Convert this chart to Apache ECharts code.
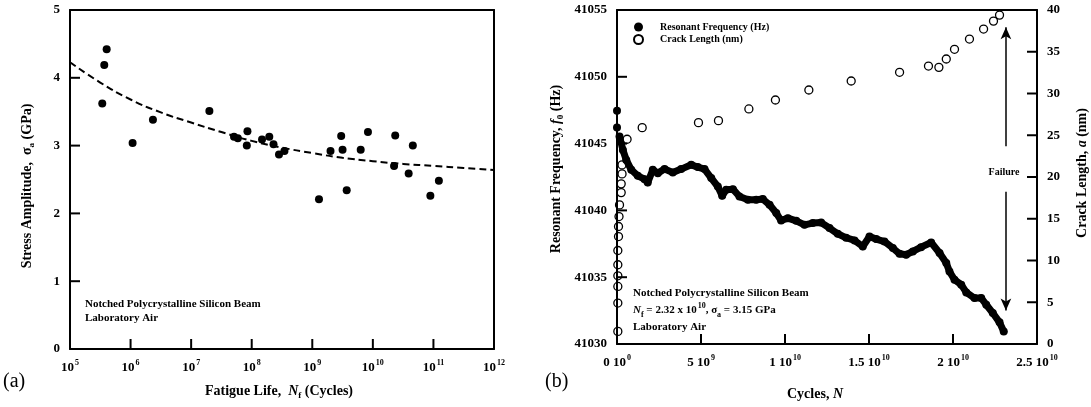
<!DOCTYPE html>
<html>
<head>
<meta charset="utf-8">
<script src="https://cdn.jsdelivr.net/npm/echarts@6/dist/echarts.min.js"></script>
<style>
  html, body { margin: 0; padding: 0; background: #fff; }
  #main { width: 1091px; height: 407px; }
</style>
</head>
<body>
<div id="main"></div>
<script>
// ---------------- (a) fatigue life data
var fatigueLife = [3.41e5, 3.68e5, 4.03e5, 1.08e6, 2.34e6, 2.0e7, 5.1e7, 5.9e7, 8.5e7, 8.3e7,
  1.48e8, 1.95e8, 2.29e8, 2.82e8, 3.47e8, 1.29e9, 2.0e9, 3.0e9, 3.16e9, 3.7e9,
  6.3e9, 8.3e9, 2.34e10, 2.24e10, 3.9e10, 4.57e10, 8.9e10, 1.23e11];
var stressAmp = [3.62, 4.19, 4.42, 3.04, 3.38, 3.51, 3.13, 3.11, 3.21, 3.00,
  3.09, 3.13, 3.02, 2.87, 2.92, 2.21, 2.92, 3.14, 2.94, 2.34,
  2.94, 3.20, 3.15, 2.70, 2.59, 3.00, 2.26, 2.48];
// dashed fit line
var fitLife = [1e5, 3.16e5, 1e6, 3.16e6, 1e7, 3.16e7, 1e8, 3.16e8, 1e9, 3.16e9, 1e10, 3.16e10, 1e11, 3.16e11, 1e12];
var fitStress = [4.23, 3.93, 3.68, 3.49, 3.34, 3.20, 3.07, 2.97, 2.89, 2.82, 2.77, 2.73, 2.70, 2.67, 2.64];

// ---------------- (b) resonant frequency / crack length (cycles in units of 1e9)
var freqCycles = [0.15, 0.35, 0.55, 0.85, 1.24, 1.64, 1.83, 2.13, 2.43, 2.83, 3.32, 3.82, 4.42, 4.81, 5.21,
  5.61, 6.0, 6.26, 6.5, 6.9, 7.29, 7.79, 8.29, 8.68, 9.08, 9.48, 9.77, 10.17, 10.67, 11.16,
  11.65, 12.15, 12.65, 13.14, 13.64, 14.14, 14.63, 15.03, 15.43, 15.92, 16.42, 16.82, 17.21, 17.61,
  18.1, 18.7, 19.2, 19.6, 19.79, 20.09, 20.49, 20.79, 21.28, 21.68, 21.98, 22.37, 22.77, 23.02];
var freqHz = [41045.53, 41044.53, 41043.78, 41043.04, 41042.59, 41042.34, 41042.09, 41043.04, 41042.79, 41043.09,
  41042.84, 41043.09, 41043.41, 41043.24, 41043.09, 41042.42, 41041.79, 41041.09, 41041.54, 41041.59,
  41041.04, 41040.79, 41040.79, 41040.85, 41040.42, 41039.80, 41039.24, 41039.42, 41039.22, 41038.92,
  41039.05, 41039.09, 41038.68, 41038.25, 41037.95, 41037.75, 41037.30, 41038.05, 41037.85, 41037.67,
  41037.18, 41036.75, 41036.68, 41036.93, 41037.25, 41037.60, 41036.81, 41036.06, 41035.43, 41034.81,
  41034.44, 41033.86, 41033.44, 41033.44, 41032.94, 41032.32, 41031.62, 41030.94];
var startCycles = [0, 0];
var startHz = [41047.45, 41046.2];

var crackCycles = [0.05, 0.05, 0.05, 0.05, 0.05, 0.05, 0.09, 0.09, 0.12, 0.15, 0.25, 0.25, 0.3, 0.3,
  0.6, 1.5, 4.85, 6.04, 7.85, 9.43, 11.42, 13.94, 16.82, 18.54, 19.16, 19.6, 20.09, 20.98, 21.82, 22.41, 22.77];
var crackLength = [1.51, 4.90, 6.89, 8.17, 9.49, 11.20, 12.87, 14.07, 15.26, 16.66, 18.13, 19.18, 20.37, 21.45,
  24.52, 25.91, 26.51, 26.75, 28.15, 29.22, 30.42, 31.50, 32.54, 33.29, 33.13, 34.13, 35.29, 36.52, 37.72, 38.67, 39.39];

// failure arrow position (cycles)
var failureCycles = 23.15e9;

// inner tick marks
var lifeTicks = [1e6, 1e7, 1e8, 1e9, 1e10, 1e11];
var stressTicks = [1, 2, 3, 4];
var cycleTicks = [5e9, 1e10, 1.5e10, 2e10];
var freqTicks = [41035, 41040, 41045, 41050];
var crackTicks = [5, 10, 15, 20, 25, 30, 35];

var FONT = "Liberation Serif";

function zip(xs, ys, scale) {
  var out = [];
  for (var i = 0; i < xs.length; i++) out.push([xs[i] * (scale || 1), ys[i]]);
  return out;
}

// tick marks as a custom series: each point is the tick spot on the axis,
// dx/dy is the direction of the 10px mark into the plot
function tickSeries(xi, yi, points, dx, dy) {
  return {
    type: "custom", xAxisIndex: xi, yAxisIndex: yi, silent: true, clip: false, z: 5,
    data: points,
    renderItem: function (params, api) {
      var p = api.coord([api.value(0), api.value(1)]);
      return {
        type: "line",
        shape: { x1: p[0], y1: p[1], x2: p[0] + dx * 10, y2: p[1] + dy * 10 },
        style: { stroke: "#000", lineWidth: 2 }
      };
    }
  };
}

var rich = {
  b: { fontFamily: FONT, fontWeight: "bold", fontSize: 13, color: "#000" },
  sup: { fontFamily: FONT, fontWeight: "bold", fontSize: 8, color: "#000", padding: [0, 0, 9, 1] },
  sub: { fontFamily: FONT, fontWeight: "bold", fontSize: 9, color: "#000", padding: [10, 0, 0, 0] },
  i: { fontFamily: FONT, fontWeight: "bold", fontStyle: "italic", fontSize: 14, color: "#000" },
  t: { fontFamily: FONT, fontWeight: "bold", fontSize: 14, color: "#000" },
  s: { fontFamily: FONT, fontWeight: "bold", fontSize: 11, color: "#000" },
  si: { fontFamily: FONT, fontWeight: "bold", fontStyle: "italic", fontSize: 11, color: "#000" },
  ssub: { fontFamily: FONT, fontWeight: "bold", fontSize: 8, color: "#000", padding: [9, 0, 0, 0] }
};

function tickAxis(extra, labelFmt) {
  var a = {
    axisLine: { show: true, onZero: false, lineStyle: { color: "#000", width: 2 } },
    axisTick: { show: false },
    splitLine: { show: false },
    axisLabel: {
      margin: 10, fontFamily: FONT, fontWeight: "bold", fontSize: 13, color: "#000", rich: rich,
      formatter: labelFmt || function (v) { return String(v); }
    }
  };
  return Object.assign(a, extra);
}
// plain frame line (no ticks / labels)
function frameAxis(extra) {
  return Object.assign({
    axisLine: { show: true, onZero: false, lineStyle: { color: "#000", width: 2 } },
    axisTick: { show: false }, axisLabel: { show: false }, splitLine: { show: false }
  }, extra);
}

function powerLabel(v) {
  return "{b|10}{sup|" + Math.round(Math.log10(v)) + "}";
}
function cycleLabel(v) {
  if (v === 0) return "{b|0 10}{sup|0}";
  var e = Math.floor(Math.log10(v) + 1e-9);
  var m = Math.round(v / Math.pow(10, e) * 10) / 10;
  return "{b|" + m + " 10}{sup|" + e + "}";
}

var chart = echarts.init(document.getElementById("main"));

var option = {
  animation: false,
  backgroundColor: "#fff",
  grid: [
    { left: 70, top: 10, width: 424, height: 339 },
    { left: 617, top: 10, width: 420, height: 334 }
  ],
  xAxis: [
    tickAxis({ type: "log", logBase: 10, gridIndex: 0, min: 1e5, max: 1e12, splitNumber: 7, position: "bottom" }, powerLabel),
    tickAxis({ type: "value", gridIndex: 1, min: 0, max: 2.5e10, interval: 5e9, position: "bottom" }, cycleLabel),
    frameAxis({ type: "value", gridIndex: 0, position: "top", min: 0, max: 1 }),
    frameAxis({ type: "value", gridIndex: 1, position: "top", min: 0, max: 1 })
  ],
  yAxis: [
    tickAxis({ type: "value", gridIndex: 0, min: 0, max: 5, interval: 1, position: "left" }),
    tickAxis({ type: "value", gridIndex: 1, min: 41030, max: 41055, interval: 5, position: "left" }),
    tickAxis({ type: "value", gridIndex: 1, min: 0, max: 40, interval: 5, position: "right" }),
    frameAxis({ type: "value", gridIndex: 0, position: "right", min: 0, max: 1 })
  ],
  legend: {
    orient: "vertical", left: 628, top: 17, itemWidth: 9, itemHeight: 9, itemGap: 2,
    textStyle: { fontFamily: FONT, fontWeight: "bold", fontSize: 10, color: "#000", padding: [0, 0, 0, 12] },
    data: [
      { name: "Resonant Frequency (Hz)", icon: "circle" },
      { name: "Crack Length (nm)", icon: "circle" }
    ]
  },
  series: [
    {
      name: "fit", type: "line", xAxisIndex: 0, yAxisIndex: 0, smooth: true, showSymbol: false,
      data: zip(fitLife, fitStress),
      lineStyle: { color: "#000", width: 2, type: [7, 4] }
    },
    {
      name: "fatigue", type: "scatter", xAxisIndex: 0, yAxisIndex: 0, symbolSize: 8,
      data: zip(fatigueLife, stressAmp),
      itemStyle: { color: "#000", opacity: 1 }
    },
    {
      name: "Resonant Frequency (Hz)", type: "line", xAxisIndex: 1, yAxisIndex: 1,
      data: zip(freqCycles, freqHz, 1e9),
      symbol: "circle", symbolSize: 8, showSymbol: true,
      lineStyle: { color: "#000", width: 7, join: "round", cap: "round" },
      itemStyle: { color: "#000", opacity: 1 },
      markLine: {
        silent: true, symbol: ["none", "arrow"], symbolSize: [8, 12],
        label: { show: false },
        lineStyle: { color: "#000", width: 1.5, type: "solid" },
        data: [
          [{ coord: [failureCycles, 41044.8] }, { coord: [failureCycles, 41053.7] }],
          [{ coord: [failureCycles, 41041.4] }, { coord: [failureCycles, 41032.5] }]
        ]
      }
    },
    {
      name: "Resonant Frequency (Hz)", type: "scatter", xAxisIndex: 1, yAxisIndex: 1, symbolSize: 8,
      data: zip(startCycles, startHz),
      itemStyle: { color: "#000", opacity: 1 }
    },
    {
      name: "Crack Length (nm)", type: "scatter", xAxisIndex: 1, yAxisIndex: 2, symbolSize: 8,
      data: zip(crackCycles, crackLength, 1e9),
      itemStyle: { color: "transparent", borderColor: "#000", borderWidth: 1.3, opacity: 1 }
    },
    // tick marks pointing into the plots
    tickSeries(0, 0, lifeTicks.map(function (v) { return [v, 0]; }), 0, -1),
    tickSeries(0, 0, stressTicks.map(function (v) { return [1e5, v]; }), 1, 0),
    tickSeries(1, 1, cycleTicks.map(function (v) { return [v, 41030]; }), 0, -1),
    tickSeries(1, 1, freqTicks.map(function (v) { return [0, v]; }), 1, 0),
    tickSeries(1, 2, crackTicks.map(function (v) { return [2.5e10, v]; }), -1, 0)
  ],
  graphic: [
    // axis titles
    { type: "text", x: 27, y: 186, rotation: Math.PI / 2,
      style: { text: "{t|Stress Amplitude,  σ}{sub|a}{t| (GPa)}", rich: rich, align: "center", verticalAlign: "middle" } },
    { type: "text", x: 279, y: 391,
      style: { text: "{t|Fatigue Life,  }{i|N}{sub|f}{t| (Cycles)}", rich: rich, align: "center", verticalAlign: "middle" } },
    { type: "text", x: 556, y: 169, rotation: Math.PI / 2,
      style: { text: "{t|Resonant Frequency, }{i|f}{sub|0}{t| (Hz)}", rich: rich, align: "center", verticalAlign: "middle" } },
    { type: "text", x: 1082, y: 173, rotation: Math.PI / 2,
      style: { text: "{t|Crack Length, }{i|a}{t| (nm)}", rich: rich, align: "center", verticalAlign: "middle" } },
    { type: "text", x: 815, y: 394,
      style: { text: "{t|Cycles, }{i|N}", rich: rich, align: "center", verticalAlign: "middle" } },
    // panel letters
    { type: "text", x: 3, y: 382,
      style: { text: "(a)", font: "20px 'Liberation Serif'", fill: "#000", verticalAlign: "middle" } },
    { type: "text", x: 545, y: 382,
      style: { text: "(b)", font: "20px 'Liberation Serif'", fill: "#000", verticalAlign: "middle" } },
    // notes
    { type: "text", x: 85, y: 304,
      style: { text: "Notched Polycrystalline Silicon Beam", font: "bold 11px 'Liberation Serif'", fill: "#000", verticalAlign: "middle" } },
    { type: "text", x: 85, y: 318,
      style: { text: "Laboratory Air", font: "bold 11px 'Liberation Serif'", fill: "#000", verticalAlign: "middle" } },
    { type: "text", x: 633, y: 293,
      style: { text: "Notched Polycrystalline Silicon Beam", font: "bold 11px 'Liberation Serif'", fill: "#000", verticalAlign: "middle" } },
    { type: "text", x: 633, y: 310,
      style: { text: "{si|N}{ssub|f}{s| = 2.32 x 10}{sup|10}{s|, σ}{ssub|a}{s| = 3.15 GPa}", rich: rich, verticalAlign: "middle" } },
    { type: "text", x: 633, y: 327,
      style: { text: "Laboratory Air", font: "bold 11px 'Liberation Serif'", fill: "#000", verticalAlign: "middle" } },
    { type: "text", x: 1004, y: 172,
      style: { text: "Failure", font: "bold 10px 'Liberation Serif'", fill: "#000", align: "center", verticalAlign: "middle" } }
  ]
};

chart.setOption(option);
</script>
</body>
</html>
